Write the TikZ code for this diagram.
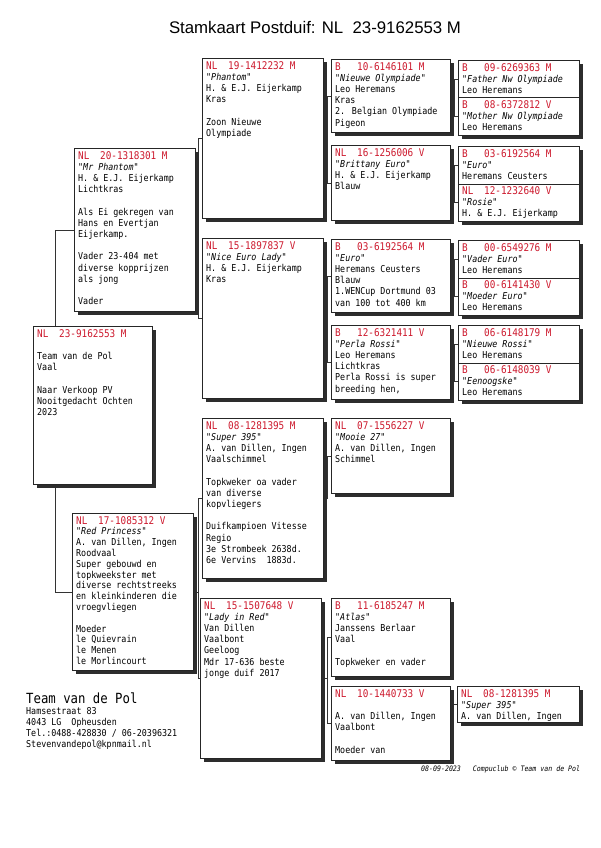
\documentclass[tikz,border=0pt]{standalone}
\usepackage{fontspec}
\setmainfont{Liberation Sans}
\newfontfamily\cardfont{DejaVu Sans Mono}[FakeStretch=0.88]
\usetikzlibrary{positioning,shadows,backgrounds}
\definecolor{ringred}{RGB}{205,25,45}
\definecolor{shadowgray}{RGB}{45,45,45}

\tikzset{
  pbox/.style={draw=black!85,line width=.6pt,fill=white,anchor=north west,inner sep=0pt,
    drop shadow={shadow xshift=4pt,shadow yshift=-4pt,fill=shadowgray,opacity=1}},
  ptext/.style={anchor=north west,inner sep=0pt,align=left,
    font=\cardfont\fontsize{9.5}{11.2}\selectfont},
  tight/.style={font=\cardfont\fontsize{9.5}{10.8}\selectfont},
  link/.style={line width=.5pt,black!80}
}

% header of a card: country + ring number
\newcommand{\hdr}[2]{{\fontsize{10.6}{11.2}\selectfont\color{ringred}\makebox[22pt][l]{#1}#2}}
\newcommand{\nm}[1]{{\itshape "#1"}}
% card: [text options], name, x, y, width, height, text
\newcommand{\ped}[7][]{%
  \node[pbox,minimum width=#5pt,minimum height=#6pt] (#2) at (#3,#4) {};
  \node[ptext,#1] (#2-t) at ([xshift=4pt,yshift=-3pt]#2.north west) {#7};}
% bracket: child, father, mother
\newcommand{\pbr}[3]{%
  \draw[link] (#2.west) -- ++(-3.5,0) coordinate (#1-br) |- (#3.west);
  \draw[link] (#1.east) -- (#1.east -| #1-br);}

\begin{document}
\begin{tikzpicture}[x=1pt,y=-1pt]
\useasboundingbox (0,0) rectangle (600,848);

\node[font=\fontsize{16.8}{19}\selectfont] (titel) at (315,27) {Stamkaart Postduif: NL\ \ 23-9162553 M};

% duif, vader, moeder
\ped{d}{33}{326}{119}{158}{\hdr{NL}{23-9162553 M}\\[11.2pt] Team van de Pol\\ Vaal\\[11.2pt] Naar Verkoop PV\\ Nooitgedacht Ochten\\ 2023}
\ped{v}{74}{148}{121}{163}{\hdr{NL}{20-1318301 M}\\ \nm{Mr Phantom}\\ H. \& E.J. Eijerkamp\\ Lichtkras\\[11.2pt] Als Ei gekregen van\\ Hans en Evertjan\\ Eijerkamp.\\[11.2pt] Vader 23-404 met\\ diverse kopprijzen\\ als jong\\[11.2pt] Vader}
\ped[tight]{m}{72}{513}{121}{157}{\hdr{NL}{17-1085312 V}\\ \nm{Red Princess}\\ A. van Dillen, Ingen\\ Roodvaal\\ Super gebouwd en\\ topkweekster met\\ diverse rechtstreeks\\ en kleinkinderen die\\ vroegvliegen\\[10.8pt] Moeder\\ le Quievrain\\ le Menen\\ le Morlincourt}

% grootouders
\ped{vv}{202}{58}{121}{160}{\hdr{NL}{19-1412232 M}\\ \nm{Phantom}\\ H. \& E.J. Eijerkamp\\ Kras\\[11.2pt] Zoon Nieuwe\\ Olympiade}
\ped{vm}{202}{238}{121}{160}{\hdr{NL}{15-1897837 V}\\ \nm{Nice Euro Lady}\\ H. \& E.J. Eijerkamp\\ Kras}
\ped{mv}{202}{418}{121}{160}{\hdr{NL}{08-1281395 M}\\ \nm{Super 395}\\ A. van Dillen, Ingen\\ Vaalschimmel\\[11.2pt] Topkweker oa vader\\ van diverse\\ kopvliegers\\[11.2pt] Duifkampioen Vitesse\\ Regio\\ 3e Strombeek 2638d.\\ 6e Vervins\ \ 1883d.}
\ped{mm}{200}{598}{121}{160}{\hdr{NL}{15-1507648 V}\\ \nm{Lady in Red}\\ Van Dillen\\ Vaalbont\\ Geeloog\\ Mdr 17-636 beste\\ jonge duif 2017}

% overgrootouders
\ped{vvv}{331}{59}{119}{73}{\hdr{B}{10-6146101 M}\\ \nm{Nieuwe Olympiade}\\ Leo Heremans\\ Kras\\ 2. Belgian Olympiade\\ Pigeon}
\ped{vvm}{331}{145}{119}{75}{\hdr{NL}{16-1256006 V}\\ \nm{Brittany Euro}\\ H. \& E.J. Eijerkamp\\ Blauw}
\ped{vmv}{331}{239}{119}{73}{\hdr{B}{03-6192564 M}\\ \nm{Euro}\\ Heremans Ceusters\\ Blauw\\ 1.WENCup Dortmund 03\\ van 100 tot 400 km}
\ped{vmm}{331}{325}{119}{74}{\hdr{B}{12-6321411 V}\\ \nm{Perla Rossi}\\ Leo Heremans\\ Lichtkras\\ Perla Rossi is super\\ breeding hen,}
\ped{mvm}{331}{418}{119}{75}{\hdr{NL}{07-1556227 V}\\ \nm{Mooie 27}\\ A. van Dillen, Ingen\\ Schimmel}
\ped{mmv}{331}{598}{119}{78}{\hdr{B}{11-6185247 M}\\ \nm{Atlas}\\ Janssens Berlaar\\ Vaal\\[11.2pt] Topkweker en vader}
\ped{mmm}{331}{686}{119}{74}{\hdr{NL}{10-1440733 V}\\[11.2pt] A. van Dillen, Ingen\\ Vaalbont\\[11.2pt] Moeder van}

% betovergrootouders
\ped{vvvv}{458}{60}{121}{37.5}{\hdr{B}{09-6269363 M}\\ {\itshape "Father Nw Olympiade}\\ Leo Heremans}
\ped{vvvm}{458}{97.5}{121}{37.5}{\hdr{B}{08-6372812 V}\\ {\itshape "Mother Nw Olympiade}\\ Leo Heremans}
\ped{vvmv}{458}{146}{121}{37.5}{\hdr{B}{03-6192564 M}\\ \nm{Euro}\\ Heremans Ceusters}
\ped{vvmm}{458}{183.5}{121}{37.5}{\hdr{NL}{12-1232640 V}\\ \nm{Rosie}\\ H. \& E.J. Eijerkamp}
\ped{vmvv}{458}{240}{121}{37.5}{\hdr{B}{00-6549276 M}\\ \nm{Vader Euro}\\ Leo Heremans}
\ped{vmvm}{458}{277.5}{121}{37.5}{\hdr{B}{00-6141430 V}\\ \nm{Moeder Euro}\\ Leo Heremans}
\ped{vmmv}{458}{325}{121}{37.5}{\hdr{B}{06-6148179 M}\\ \nm{Nieuwe Rossi}\\ Leo Heremans}
\ped{vmmm}{458}{362.5}{121}{37.5}{\hdr{B}{06-6148039 V}\\ \nm{Eenoogske}\\ Leo Heremans}
\ped{mmmv}{457}{686}{122}{36}{\hdr{NL}{08-1281395 M}\\ \nm{Super 395}\\ A. van Dillen, Ingen}

% lijnen
\begin{scope}[on background layer]
\fill[white] (0,0) rectangle (600,848);
\draw[link] (v.west) -- ++(-19,0) |- (m.west);
\pbr{v}{vv}{vm}
\pbr{m}{mv}{mm}
\pbr{vv}{vvv}{vvm}
\pbr{vm}{vmv}{vmm}
\pbr{mm}{mmv}{mmm}
\draw[link] (mvm.west) -- ++(-3.5,0) |- (mv.east);
\pbr{vvv}{vvvv}{vvvm}
\pbr{vvm}{vvmv}{vvmm}
\pbr{vmv}{vmvv}{vmvm}
\pbr{vmm}{vmmv}{vmmm}
\draw[link] (mmmv.west) -- ++(-3.5,0) |- (mmm.east);
\end{scope}

% adres
\node[anchor=west,font=\cardfont\fontsize{14}{16}\selectfont,inner sep=0pt] (team) at (26,698) {Team van de Pol};
\node[anchor=north west,align=left,inner sep=0pt,font=\cardfont\fontsize{9.5}{11.2}\selectfont] (adres) at (26,707) {Hamsestraat 83\\ 4043 LG\ \ Opheusden\\ Tel.:0488-428830 / 06-20396321\\ Stevenvandepol@kpnmail.nl};
\node[anchor=west,inner sep=0pt,font=\cardfont\itshape\fontsize{7.5}{9}\selectfont] (voet) at (421,769) {08-09-2023\ \ \ Compuclub © Team van de Pol};
\end{tikzpicture}
\end{document}
